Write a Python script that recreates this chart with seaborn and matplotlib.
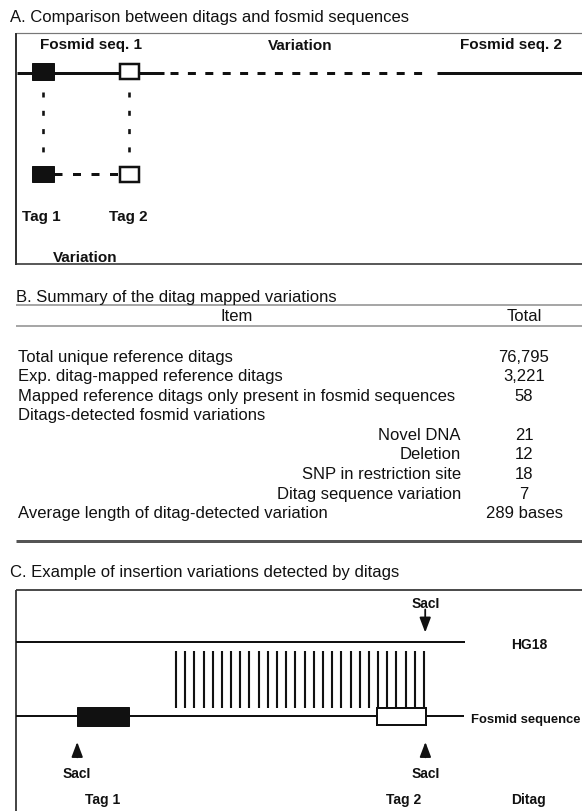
import matplotlib
matplotlib.use("Agg")
import numpy as np
import pandas as pd
import matplotlib.pyplot as plt
import seaborn as sns
from matplotlib.patches import Rectangle
from matplotlib import font_manager as fm

# ---------------- data ----------------
panel_titles = [
    "A. Comparison between ditags and fosmid sequences",
    "B. Summary of the ditag mapped variations",
    "C. Example of insertion variations detected by ditags",
]
a_headers = ["Fosmid seq. 1", "Variation", "Fosmid seq. 2"]
a_tags = ["Tag 1", "Tag 2"]
a_footer = "Variation"

table_header = ["Item", "Total"]
table_items = [
    "Total unique reference ditags",
    "Exp. ditag-mapped reference ditags",
    "Mapped reference ditags only present in fosmid sequences",
    "Ditags-detected fosmid variations",
    "Novel DNA",
    "Deletion",
    "SNP in restriction site",
    "Ditag sequence variation",
    "Average length of ditag-detected variation",
]
table_values = ["76,795", "3,221", "58", "", "21", "12", "18", "7", "289 bases"]
table_indent = [False, False, False, False, True, True, True, True, False]

c_track_labels = ["HG18", "Fosmid sequence"]
c_site_label = "SacI"
c_bottom_labels = ["Tag 1", "Tag 2", "Ditag"]
n_insertion_lines = 28

# ---------------- style ----------------
sns.set_theme(style="white")
plt.rcParams["font.family"] = ["Liberation Sans", "DejaVu Sans"]
plt.rcParams["lines.scale_dashes"] = False
plt.rcParams["lines.solid_capstyle"] = "butt"
plt.rcParams["lines.dash_capstyle"] = "butt"

names = {f.name for f in fm.fontManager.ttflist}
if "Liberation Sans Narrow" in names:
    NARROW = ["Liberation Sans Narrow", "Liberation Sans", "DejaVu Sans"]
    NARROW_SIZE = 11.5
    FOS_SIZE = 11.5
else:
    NARROW = ["Liberation Sans", "DejaVu Sans"]
    NARROW_SIZE = 10.0
    FOS_SIZE = 9.4

P = 0.72  # px -> pt at dpi 100
INK = "#111111"

fig = plt.figure(figsize=(5.82, 8.12), dpi=100)
ax = fig.add_axes([0, 0, 1, 1])
ax.set_xlim(0, 582)
ax.set_ylim(812, 0)
ax.axis("off")


def hline(x0, x1, y, lw, color=INK, dash=None, z=2):
    ls = "-" if dash is None else (0, (dash[0] * P, dash[1] * P))
    ax.plot([x0, x1], [y, y], color=color, lw=lw * P, ls=ls, zorder=z)


def vline(x, y0, y1, lw, color=INK, dash=None, z=2):
    ls = "-" if dash is None else (0, (dash[0] * P, dash[1] * P))
    ax.plot([x, x], [y0, y1], color=color, lw=lw * P, ls=ls, zorder=z)


def txt(x, y, s, size=12, weight="normal", ha="left", family=None):
    kw = {}
    if family is not None:
        kw["family"] = family
    ax.text(x, y, s, fontsize=size, fontweight=weight, ha=ha, va="baseline",
            color=INK, **kw)


def box(x0, y0, x1, y1, filled, lw=2.5):
    ax.add_patch(Rectangle((x0, y0), x1 - x0, y1 - y0,
                           facecolor=INK if filled else "white",
                           edgecolor=INK, lw=lw * P, zorder=4))


def arrow(x, y_base, y_tip):
    ax.annotate("", xy=(x, y_tip), xytext=(x, y_base),
                arrowprops=dict(arrowstyle="-|>,head_length=0.45,head_width=0.17",
                                color=INK, lw=1.8 * P, shrinkA=0, shrinkB=0,
                                mutation_scale=20))


# ================= Panel A =================
txt(10, 21.7, panel_titles[0], 12)
hline(15.7, 582, 34.3, 1.2, color="#777777")
vline(15.7, 34.3, 265.5, 2.0, color="#333333")
hline(15.7, 582, 265, 1.6, color="#333333")

for x, s in zip([91, 300, 511], a_headers):
    txt(x, 49.5, s, 11, "bold", "center")

# main fosmid line
yA = 74
hline(16.5, 164, yA, 3.0)
hline(170, 422, yA, 3.0, dash=(8, 9.4))
hline(437, 582, yA, 3.0)
box(32.3, 64.3, 54, 81.3, True, lw=1)
box(119.5, 65.3, 138.8, 80.3, False, lw=2.5)

# vertical dotted connectors
for xv in [42.7, 128.8]:
    vline(xv, 93.2, 153.3, 2.6, dash=(5, 13.3))

# lower ditag
yL = 175
hline(54, 119, yL, 3.0, dash=(8, 10.5))
box(32.3, 166.7, 54, 183.3, True, lw=1)
box(119.8, 167.5, 138.8, 182.5, False, lw=2.5)

for x, s in zip([41.5, 128.5], a_tags):
    txt(x, 221, s, 11, "bold", "center")
txt(85.3, 261.7, a_footer, 11, "bold", "center")

# ================= Panel B =================
txt(15.6, 301.7, panel_titles[1], 12)
hline(15.7, 582, 305.7, 1.5, color="#8a8a8a")
txt(237, 321, table_header[0], 12, ha="center")
txt(524, 321.5, table_header[1], 12, ha="center")
hline(15.7, 582, 326.7, 1.5, color="#8a8a8a")

row_base = 361.7
row_step = 19.55
for i, (item, val, ind) in enumerate(zip(table_items, table_values, table_indent)):
    yb = row_base + i * row_step
    if ind:
        txt(461, yb, item, 12, ha="right")
    else:
        txt(17.5, yb, item, 12, ha="left")
    if val:
        txt(524, yb, val, 12, ha="center")
hline(15.7, 582, 541.7, 3.0, color="#555555")

# ================= Panel C =================
txt(10, 577.3, panel_titles[2], 12)
hline(15.7, 582, 591, 1.6, color="#222222")
vline(15.7, 591, 812, 1.8, color="#333333")

yH = 642.7
yF = 717.3
hline(15.7, 465, yH, 2.0)
hline(15.7, 464, yF, 2.0)

# insertion lines drawn with seaborn
xs = np.linspace(176, 424, n_insertion_lines)
ins = pd.DataFrame({
    "x": np.repeat(xs, 2),
    "y": np.tile([651.7, 708.5], n_insertion_lines),
    "line": np.repeat(np.arange(n_insertion_lines), 2),
})
sns.lineplot(data=ins, x="x", y="y", units="line", estimator=None, sort=False,
             color=INK, lw=2.1 * P, legend=False, ax=ax)
ax.set_xlim(0, 582)
ax.set_ylim(812, 0)
ax.axis("off")

box(77.2, 708.3, 128.8, 726.7, True, lw=1)
box(377.3, 709.0, 425.8, 726.0, False, lw=2.0)

txt(529, 649.3, c_track_labels[0], NARROW_SIZE, "bold", "center", NARROW)
txt(471, 722.8, c_track_labels[1], FOS_SIZE, "bold", "left", NARROW)

# SacI sites
txt(425.8, 607.8, c_site_label, NARROW_SIZE, "bold", "center", NARROW)
arrow(425.2, 610.5, 633.5)
for xa in [77.2, 425.4]:
    arrow(xa, 758.3, 743.0)
    txt(xa, 778.3, c_site_label, NARROW_SIZE, "bold", "center", NARROW)

for x, s in zip([103, 404, 529], c_bottom_labels):
    txt(x, 804, s, NARROW_SIZE, "bold", "center", NARROW)

fig.savefig("out.png", dpi=100)
